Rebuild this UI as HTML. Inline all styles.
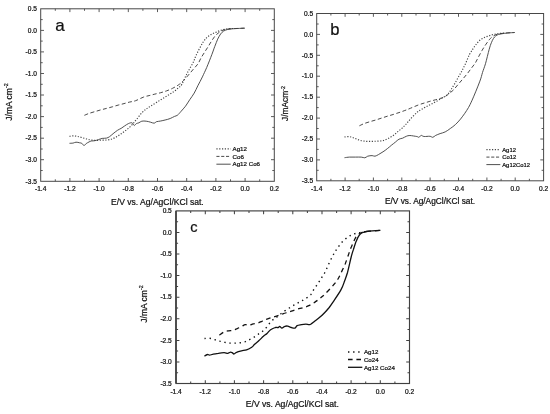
<!DOCTYPE html>
<html lang="en"><head><meta charset="utf-8"><title>Figure</title>
<style>html,body{margin:0;padding:0;background:#fff;}body{width:550px;height:414px;overflow:hidden;}svg{display:block;filter:grayscale(1);}text{font-family:"Liberation Sans", Arial, Helvetica, sans-serif;fill:#111;stroke:#111;stroke-width:0.22px;}</style></head><body>
<svg width="550" height="414" viewBox="0 0 550 414">
<rect x="0" y="0" width="550" height="414" fill="#ffffff"/>
<g id="chart-a">
<rect x="40.7" y="8.8" width="233.6" height="172.5" fill="none" stroke="#484848" stroke-width="1.0"/>
<path d="M55.3,181.3v-2.0 M55.3,8.8v2.0 M69.9,181.3v-3.3 M69.9,8.8v3.3 M84.5,181.3v-2.0 M84.5,8.8v2.0 M99.1,181.3v-3.3 M99.1,8.8v3.3 M113.7,181.3v-2.0 M113.7,8.8v2.0 M128.3,181.3v-3.3 M128.3,8.8v3.3 M142.9,181.3v-2.0 M142.9,8.8v2.0 M157.5,181.3v-3.3 M157.5,8.8v3.3 M172.1,181.3v-2.0 M172.1,8.8v2.0 M186.7,181.3v-3.3 M186.7,8.8v3.3 M201.3,181.3v-2.0 M201.3,8.8v2.0 M215.9,181.3v-3.3 M215.9,8.8v3.3 M230.5,181.3v-2.0 M230.5,8.8v2.0 M245.1,181.3v-3.3 M245.1,8.8v3.3 M259.7,181.3v-2.0 M259.7,8.8v2.0 M40.7,19.6h2.0 M274.3,19.6h-2.0 M40.7,30.4h3.3 M274.3,30.4h-3.3 M40.7,41.1h2.0 M274.3,41.1h-2.0 M40.7,51.9h3.3 M274.3,51.9h-3.3 M40.7,62.7h2.0 M274.3,62.7h-2.0 M40.7,73.5h3.3 M274.3,73.5h-3.3 M40.7,84.3h2.0 M274.3,84.3h-2.0 M40.7,95.0h3.3 M274.3,95.0h-3.3 M40.7,105.8h2.0 M274.3,105.8h-2.0 M40.7,116.6h3.3 M274.3,116.6h-3.3 M40.7,127.4h2.0 M274.3,127.4h-2.0 M40.7,138.2h3.3 M274.3,138.2h-3.3 M40.7,149.0h2.0 M274.3,149.0h-2.0 M40.7,159.7h3.3 M274.3,159.7h-3.3 M40.7,170.5h2.0 M274.3,170.5h-2.0" fill="none" stroke="#484848" stroke-width="0.90"/>
<text x="40.7" y="190.6" font-size="6.6" text-anchor="middle">-1.4</text>
<text x="69.9" y="190.6" font-size="6.6" text-anchor="middle">-1.2</text>
<text x="99.1" y="190.6" font-size="6.6" text-anchor="middle">-1.0</text>
<text x="128.3" y="190.6" font-size="6.6" text-anchor="middle">-0.8</text>
<text x="157.5" y="190.6" font-size="6.6" text-anchor="middle">-0.6</text>
<text x="186.7" y="190.6" font-size="6.6" text-anchor="middle">-0.4</text>
<text x="215.9" y="190.6" font-size="6.6" text-anchor="middle">-0.2</text>
<text x="245.1" y="190.6" font-size="6.6" text-anchor="middle">0.0</text>
<text x="274.3" y="190.6" font-size="6.6" text-anchor="middle">0.2</text>
<text x="36.9" y="11.0" font-size="6.6" text-anchor="end">0.5</text>
<text x="36.9" y="32.5" font-size="6.6" text-anchor="end">0.0</text>
<text x="36.9" y="54.1" font-size="6.6" text-anchor="end">-0.5</text>
<text x="36.9" y="75.7" font-size="6.6" text-anchor="end">-1.0</text>
<text x="36.9" y="97.2" font-size="6.6" text-anchor="end">-1.5</text>
<text x="36.9" y="118.8" font-size="6.6" text-anchor="end">-2.0</text>
<text x="36.9" y="140.4" font-size="6.6" text-anchor="end">-2.5</text>
<text x="36.9" y="161.9" font-size="6.6" text-anchor="end">-3.0</text>
<text x="36.9" y="183.5" font-size="6.6" text-anchor="end">-3.5</text>
<text x="157.4" y="204.5" font-size="8.56" text-anchor="middle">E/V vs. Ag/AgCl/KCl sat.</text>
<text transform="translate(12.1,120.7) rotate(-90)" font-size="8.5">J/mA cm<tspan dy="-3.8" font-size="5.3">-2</tspan></text>
<text x="55.3" y="30.5" font-size="17" fill="#000" stroke="none">a</text>
<path d="M69.5,136.4 C70.1,136.3 71.8,135.8 73.1,135.8 C74.4,135.8 76.0,136.1 77.5,136.4 C78.9,136.7 80.2,137.1 81.8,137.5 C83.4,138.0 85.3,138.6 86.9,139.0 C88.5,139.4 89.7,139.8 91.3,140.0 C92.8,140.2 94.7,140.4 96.4,140.4 C98.1,140.5 99.8,140.2 101.5,140.1 C103.2,140.1 105.0,140.1 106.5,140.0 C108.1,139.9 109.5,139.7 110.9,139.3 C112.4,138.9 113.8,138.3 115.3,137.5 C116.7,136.8 118.2,135.9 119.6,134.9 C121.1,133.9 122.5,132.8 124.0,131.7 C125.5,130.6 126.9,129.6 128.4,128.4 C129.8,127.1 131.4,125.5 132.7,124.0 C134.1,122.5 134.8,121.5 136.4,119.6 C137.9,117.8 140.2,114.5 141.8,112.7 C143.5,111.0 144.7,110.2 146.2,109.1 C147.6,108.0 148.8,107.3 150.5,106.2 C152.2,105.1 154.4,103.8 156.4,102.5 C158.3,101.3 160.2,100.1 162.2,98.9 C164.1,97.7 166.1,96.5 168.0,95.3 C169.9,94.1 172.1,92.8 173.8,91.6 C175.5,90.4 176.8,89.2 178.2,88.0 C179.5,86.8 180.5,86.6 181.8,84.4 C183.2,82.2 185.0,77.4 186.4,74.7 C187.7,72.0 188.8,70.4 190.0,68.2 C191.2,66.0 192.7,63.7 193.6,61.6 C194.6,59.6 194.9,58.0 195.9,55.8 C196.9,53.6 198.3,50.8 199.5,48.5 C200.8,46.2 202.0,43.8 203.2,42.0 C204.4,40.2 205.5,38.9 206.8,37.6 C208.2,36.4 209.6,35.4 211.2,34.4 C212.8,33.5 214.6,32.8 216.3,32.1 C218.0,31.4 219.5,30.6 221.4,30.1 C223.2,29.5 225.2,29.2 227.2,28.9 C229.1,28.6 232.0,28.5 233.0,28.5" fill="none" stroke-dasharray="1.2 1.6" stroke-width="1.15" stroke="#444" stroke-linejoin="round"/>
<path d="M84.4,115.3 C85.2,115.0 87.3,114.0 89.1,113.4 C90.8,112.8 93.0,112.2 94.9,111.6 C96.8,111.1 98.8,110.4 100.7,109.9 C102.7,109.4 104.6,108.9 106.5,108.4 C108.5,107.9 110.4,107.4 112.4,106.8 C114.3,106.3 116.2,105.6 118.2,105.1 C120.1,104.6 122.1,104.1 124.0,103.6 C125.9,103.1 127.9,102.5 129.8,102.0 C131.8,101.6 133.4,101.5 135.6,100.7 C137.9,99.9 141.0,98.0 143.3,97.2 C145.5,96.3 147.2,96.1 149.1,95.6 C151.0,95.1 153.0,94.6 154.9,94.1 C156.8,93.6 158.8,93.2 160.7,92.7 C162.7,92.1 164.6,91.6 166.5,90.9 C168.5,90.2 170.4,89.4 172.4,88.4 C174.3,87.5 176.6,86.1 178.2,85.1 C179.8,84.0 180.7,83.2 181.8,82.2 C182.9,81.2 183.7,80.5 184.9,79.1 C186.2,77.7 187.8,75.7 189.3,74.0 C190.7,72.3 192.2,70.6 193.6,68.9 C195.1,67.2 196.8,65.6 198.0,63.8 C199.2,62.0 199.9,59.9 201.0,58.0 C202.1,56.1 203.4,54.1 204.6,52.2 C205.8,50.2 207.1,48.3 208.3,46.4 C209.5,44.4 210.7,42.4 211.9,40.5 C213.1,38.7 214.2,36.9 215.5,35.5 C216.9,34.0 218.5,32.8 219.9,31.8 C221.4,30.8 222.8,30.1 224.3,29.6 C225.7,29.2 226.7,29.1 228.6,28.9 C230.6,28.7 233.2,28.6 235.9,28.5 C238.6,28.4 243.2,28.2 244.6,28.2" fill="none" stroke-dasharray="4.0 2.5" stroke-width="0.95" stroke="#404040" stroke-linejoin="round"/>
<path d="M69.5,143.3 C70.1,143.3 72.0,143.2 73.1,143.1 C74.2,142.9 74.9,142.2 76.0,142.2 C77.1,142.1 78.7,142.6 79.6,142.8 C80.6,143.0 81.1,142.9 81.8,143.3 C82.5,143.8 83.3,145.5 84.0,145.5 C84.7,145.6 85.3,144.2 86.2,143.6 C87.0,143.0 88.2,142.3 89.1,141.9 C89.9,141.5 90.3,141.2 91.3,141.0 C92.2,140.8 93.7,141.0 94.9,140.7 C96.1,140.5 97.3,140.0 98.5,139.6 C99.8,139.2 100.8,138.6 102.2,138.4 C103.5,138.2 105.3,138.4 106.5,138.1 C107.8,137.8 108.4,137.4 109.5,136.7 C110.5,135.9 111.8,134.8 113.1,133.7 C114.4,132.7 116.1,131.2 117.5,130.3 C118.8,129.4 119.9,129.1 121.1,128.4 C122.3,127.6 123.5,126.7 124.7,125.9 C125.9,125.1 127.2,124.1 128.4,123.6 C129.6,123.1 131.0,122.5 132.0,122.8 C133.0,123.2 133.5,125.3 134.2,125.5 C134.9,125.6 135.6,124.0 136.4,123.6 C137.2,123.1 138.0,123.2 138.9,122.8 C139.8,122.4 140.6,121.4 141.8,121.2 C143.0,120.9 144.7,121.0 146.2,121.2 C147.6,121.3 149.2,121.8 150.5,122.2 C151.9,122.5 153.2,123.3 154.2,123.2 C155.2,123.1 155.3,122.1 156.4,121.7 C157.5,121.4 159.3,121.3 160.7,121.0 C162.2,120.7 163.5,120.4 165.1,120.0 C166.7,119.6 168.6,119.2 170.2,118.5 C171.8,117.9 173.3,116.9 174.5,116.4 C175.8,115.8 176.4,116.0 177.5,115.2 C178.5,114.4 179.8,112.8 181.1,111.3 C182.4,109.8 184.0,108.1 185.5,106.2 C186.9,104.2 188.4,101.8 189.8,99.6 C191.3,97.5 192.8,95.4 194.2,93.1 C195.5,90.8 196.5,88.5 197.8,85.8 C199.2,83.1 200.9,80.0 202.4,76.9 C203.8,73.8 205.1,71.2 206.7,67.5 C208.3,63.7 210.6,57.9 211.9,54.4 C213.3,50.8 213.8,48.9 214.8,46.4 C215.8,43.8 216.8,41.2 217.7,39.1 C218.7,37.0 219.7,35.3 220.6,34.0 C221.6,32.7 222.5,31.8 223.5,31.1 C224.6,30.4 225.8,30.0 227.2,29.6 C228.5,29.3 229.8,29.1 231.5,28.9 C233.2,28.7 235.2,28.6 237.4,28.5 C239.5,28.4 243.4,28.2 244.6,28.2" fill="none" stroke="#3c3c3c" stroke-width="0.9" stroke-linejoin="round"/>
<path d="M216.4,148.8H230.7" fill="none" stroke-dasharray="1.2 1.6" stroke-width="1.15" stroke="#444"/>
<text x="232.5" y="151.0" font-size="6.2">Ag12</text>
<path d="M216.4,156.4H230.7" fill="none" stroke-dasharray="3.1 1.7" stroke-width="0.95" stroke="#404040"/>
<text x="232.5" y="158.6" font-size="6.2">Co6</text>
<path d="M216.4,164.2H230.7" fill="none" stroke="#3c3c3c" stroke-width="0.9"/>
<text x="232.5" y="166.4" font-size="6.2">Ag12 Co6</text>
</g>
<g id="chart-b">
<rect x="316.7" y="13.5" width="226.9" height="167.3" fill="none" stroke="#484848" stroke-width="1.0"/>
<path d="M330.9,180.8v-2.0 M330.9,13.5v2.0 M345.1,180.8v-3.3 M345.1,13.5v3.3 M359.2,180.8v-2.0 M359.2,13.5v2.0 M373.4,180.8v-3.3 M373.4,13.5v3.3 M387.6,180.8v-2.0 M387.6,13.5v2.0 M401.8,180.8v-3.3 M401.8,13.5v3.3 M416.0,180.8v-2.0 M416.0,13.5v2.0 M430.1,180.8v-3.3 M430.1,13.5v3.3 M444.3,180.8v-2.0 M444.3,13.5v2.0 M458.5,180.8v-3.3 M458.5,13.5v3.3 M472.7,180.8v-2.0 M472.7,13.5v2.0 M486.9,180.8v-3.3 M486.9,13.5v3.3 M501.1,180.8v-2.0 M501.1,13.5v2.0 M515.2,180.8v-3.3 M515.2,13.5v3.3 M529.4,180.8v-2.0 M529.4,13.5v2.0 M316.7,24.0h2.0 M543.6,24.0h-2.0 M316.7,34.4h3.3 M543.6,34.4h-3.3 M316.7,44.9h2.0 M543.6,44.9h-2.0 M316.7,55.3h3.3 M543.6,55.3h-3.3 M316.7,65.8h2.0 M543.6,65.8h-2.0 M316.7,76.2h3.3 M543.6,76.2h-3.3 M316.7,86.7h2.0 M543.6,86.7h-2.0 M316.7,97.2h3.3 M543.6,97.2h-3.3 M316.7,107.6h2.0 M543.6,107.6h-2.0 M316.7,118.1h3.3 M543.6,118.1h-3.3 M316.7,128.5h2.0 M543.6,128.5h-2.0 M316.7,139.0h3.3 M543.6,139.0h-3.3 M316.7,149.4h2.0 M543.6,149.4h-2.0 M316.7,159.9h3.3 M543.6,159.9h-3.3 M316.7,170.3h2.0 M543.6,170.3h-2.0" fill="none" stroke="#484848" stroke-width="0.90"/>
<text x="316.7" y="190.7" font-size="6.6" text-anchor="middle">-1.4</text>
<text x="345.1" y="190.7" font-size="6.6" text-anchor="middle">-1.2</text>
<text x="373.4" y="190.7" font-size="6.6" text-anchor="middle">-1.0</text>
<text x="401.8" y="190.7" font-size="6.6" text-anchor="middle">-0.8</text>
<text x="430.1" y="190.7" font-size="6.6" text-anchor="middle">-0.6</text>
<text x="458.5" y="190.7" font-size="6.6" text-anchor="middle">-0.4</text>
<text x="486.9" y="190.7" font-size="6.6" text-anchor="middle">-0.2</text>
<text x="515.2" y="190.7" font-size="6.6" text-anchor="middle">0.0</text>
<text x="543.6" y="190.7" font-size="6.6" text-anchor="middle">0.2</text>
<text x="313.1" y="15.7" font-size="6.6" text-anchor="end">0.5</text>
<text x="313.1" y="36.6" font-size="6.6" text-anchor="end">0.0</text>
<text x="313.1" y="57.5" font-size="6.6" text-anchor="end">-0.5</text>
<text x="313.1" y="78.4" font-size="6.6" text-anchor="end">-1.0</text>
<text x="313.1" y="99.3" font-size="6.6" text-anchor="end">-1.5</text>
<text x="313.1" y="120.2" font-size="6.6" text-anchor="end">-2.0</text>
<text x="313.1" y="141.2" font-size="6.6" text-anchor="end">-2.5</text>
<text x="313.1" y="162.1" font-size="6.6" text-anchor="end">-3.0</text>
<text x="313.1" y="183.0" font-size="6.6" text-anchor="end">-3.5</text>
<text x="430.0" y="204.3" font-size="8.32" text-anchor="middle">E/V vs. Ag/AgCl/KCl sat.</text>
<text transform="translate(288.3,121.0) rotate(-90)" font-size="8.4">J/mAcm<tspan dy="-3.8" font-size="5.2">-2</tspan></text>
<text x="330.3" y="35.3" font-size="16.6" fill="#000" stroke="none">b</text>
<path d="M344.5,137.0 C345.2,136.9 347.4,136.4 348.8,136.6 C350.3,136.7 351.7,137.2 353.2,137.7 C354.6,138.2 356.0,138.9 357.5,139.5 C359.1,140.0 360.9,140.6 362.6,140.9 C364.3,141.2 366.0,141.3 367.7,141.4 C369.4,141.4 371.1,141.4 372.8,141.4 C374.5,141.3 376.2,141.2 377.9,141.1 C379.6,141.0 381.3,141.1 383.0,140.6 C384.7,140.2 386.4,139.3 388.1,138.5 C389.8,137.6 391.6,136.6 393.2,135.5 C394.8,134.5 396.1,133.1 397.5,131.9 C399.0,130.7 400.5,129.6 401.9,128.3 C403.4,126.9 404.8,125.5 406.3,123.9 C407.7,122.3 408.9,120.7 410.6,118.8 C412.4,116.9 415.1,114.1 416.8,112.5 C418.6,111.0 419.6,110.6 421.2,109.6 C422.8,108.7 424.6,107.6 426.3,106.7 C428.0,105.8 429.5,105.1 431.4,104.1 C433.2,103.1 435.4,101.9 437.2,100.9 C439.0,99.9 440.8,98.8 442.3,98.0 C443.7,97.2 444.8,96.6 445.9,95.8 C447.0,95.0 447.9,94.3 448.8,93.2 C449.7,92.1 450.3,90.8 451.3,89.2 C452.3,87.5 453.7,85.4 454.9,83.4 C456.1,81.3 457.3,79.0 458.5,76.8 C459.8,74.6 461.0,72.6 462.2,70.3 C463.4,68.0 464.6,65.7 465.8,63.0 C467.0,60.3 468.3,56.8 469.5,54.4 C470.8,52.0 472.0,50.4 473.2,48.5 C474.4,46.7 475.6,44.9 476.8,43.5 C478.0,42.0 479.1,40.8 480.5,39.8 C481.8,38.8 483.4,38.0 484.8,37.3 C486.3,36.7 487.7,36.2 489.2,35.7 C490.6,35.3 492.0,34.8 493.5,34.4 C495.1,34.1 496.8,33.8 498.6,33.6 C500.5,33.3 503.5,33.1 504.5,33.0" fill="none" stroke-dasharray="1.2 1.6" stroke-width="1.15" stroke="#444" stroke-linejoin="round"/>
<path d="M359.4,125.8 C360.2,125.4 362.3,124.3 364.1,123.6 C365.8,122.9 368.0,122.3 369.9,121.7 C371.8,121.1 373.8,120.6 375.7,120.0 C377.7,119.4 379.6,118.7 381.5,118.1 C383.5,117.5 385.4,116.8 387.4,116.2 C389.3,115.6 391.2,115.1 393.2,114.5 C395.1,113.8 397.1,113.2 399.0,112.6 C400.9,111.9 402.9,111.3 404.8,110.5 C406.8,109.8 408.4,109.1 410.6,108.2 C412.9,107.3 416.0,105.8 418.3,105.0 C420.5,104.1 422.2,103.7 424.1,103.1 C426.0,102.5 428.0,101.9 429.9,101.3 C431.8,100.8 433.8,100.3 435.7,99.7 C437.7,99.2 439.8,98.6 441.5,98.0 C443.2,97.4 444.6,96.9 445.9,96.1 C447.2,95.3 448.3,94.2 449.5,93.2 C450.8,92.2 452.1,91.3 453.5,89.9 C454.8,88.5 456.4,86.5 457.8,84.8 C459.3,83.1 460.7,81.4 462.2,79.7 C463.6,78.0 465.1,76.5 466.5,74.6 C468.0,72.8 469.5,70.8 470.9,68.8 C472.4,66.9 474.0,64.9 475.3,63.0 C476.5,61.1 477.2,59.3 478.3,57.3 C479.4,55.2 480.7,52.8 481.9,50.7 C483.1,48.7 484.3,46.7 485.5,44.9 C486.8,43.1 488.1,41.2 489.2,39.8 C490.3,38.5 491.0,37.8 492.1,36.9 C493.2,36.1 494.4,35.3 495.7,34.7 C497.1,34.2 498.4,34.0 500.1,33.7 C501.8,33.4 503.5,33.2 505.9,33.0 C508.3,32.8 513.2,32.6 514.6,32.5" fill="none" stroke-dasharray="4.0 2.5" stroke-width="0.95" stroke="#404040" stroke-linejoin="round"/>
<path d="M344.5,157.7 C345.3,157.6 347.7,157.2 349.5,157.1 C351.4,157.0 353.4,157.1 355.4,157.1 C357.3,157.1 359.6,157.0 361.2,157.1 C362.8,157.2 363.7,157.9 364.8,157.8 C365.9,157.7 366.5,156.6 367.7,156.2 C368.9,155.8 370.9,155.6 372.1,155.6 C373.3,155.6 373.9,156.4 375.0,156.2 C376.1,156.0 377.3,155.2 378.6,154.5 C380.0,153.7 381.5,152.8 383.0,151.8 C384.5,150.9 385.9,149.8 387.4,148.6 C388.8,147.5 390.4,146.1 391.7,145.0 C393.1,143.9 394.2,143.1 395.4,142.1 C396.6,141.1 397.8,139.8 399.0,139.2 C400.2,138.5 401.4,138.6 402.6,138.2 C403.8,137.7 405.1,136.7 406.3,136.3 C407.5,135.8 408.2,135.5 409.9,135.5 C411.7,135.6 415.3,136.3 416.8,136.5 C418.3,136.8 418.3,137.5 419.0,137.3 C419.7,137.1 420.3,135.5 421.2,135.4 C422.0,135.3 422.6,136.4 424.1,136.5 C425.5,136.7 428.5,136.1 429.9,136.3 C431.4,136.4 431.8,137.4 432.8,137.3 C433.8,137.1 434.5,136.0 435.7,135.4 C436.9,134.8 438.5,134.2 440.1,133.6 C441.7,133.1 443.5,132.7 445.2,131.9 C446.9,131.0 448.6,129.8 450.3,128.5 C452.0,127.3 453.7,126.2 455.4,124.6 C457.1,123.0 458.9,121.0 460.5,119.1 C462.0,117.2 463.5,115.2 464.8,113.3 C466.2,111.3 467.2,109.6 468.5,107.5 C469.7,105.3 470.2,104.4 472.1,100.2 C474.0,95.9 477.9,86.5 479.6,81.9 C481.4,77.3 481.6,75.5 482.5,72.5 C483.5,69.4 484.3,67.6 485.5,63.7 C486.6,59.9 488.2,52.8 489.2,49.3 C490.2,45.8 490.6,44.5 491.4,42.7 C492.1,40.9 492.8,39.5 493.5,38.4 C494.3,37.2 494.9,36.5 495.7,35.9 C496.6,35.2 497.5,34.8 498.6,34.4 C499.7,34.1 500.8,34.0 502.3,33.7 C503.7,33.5 505.3,33.2 507.4,33.0 C509.4,32.8 513.4,32.6 514.6,32.5" fill="none" stroke="#3c3c3c" stroke-width="0.9" stroke-linejoin="round"/>
<path d="M486.4,149.6H500.3" fill="none" stroke-dasharray="1.2 1.6" stroke-width="1.15" stroke="#444"/>
<text x="502.2" y="151.7" font-size="5.9">Ag12</text>
<path d="M486.4,157.1H500.3" fill="none" stroke-dasharray="3.1 1.7" stroke-width="0.95" stroke="#404040"/>
<text x="502.2" y="159.2" font-size="5.9">Co12</text>
<path d="M486.4,164.6H500.3" fill="none" stroke="#3c3c3c" stroke-width="0.9"/>
<text x="502.2" y="166.7" font-size="5.9">Ag12Co12</text>
</g>
<g id="chart-c">
<rect x="176.1" y="210.9" width="233.4" height="172.6" fill="none" stroke="#404040" stroke-width="1.15"/>
<path d="M190.7,383.5v-2.0 M190.7,210.9v2.0 M205.3,383.5v-3.3 M205.3,210.9v3.3 M219.9,383.5v-2.0 M219.9,210.9v2.0 M234.4,383.5v-3.3 M234.4,210.9v3.3 M249.0,383.5v-2.0 M249.0,210.9v2.0 M263.6,383.5v-3.3 M263.6,210.9v3.3 M278.2,383.5v-2.0 M278.2,210.9v2.0 M292.8,383.5v-3.3 M292.8,210.9v3.3 M307.4,383.5v-2.0 M307.4,210.9v2.0 M322.0,383.5v-3.3 M322.0,210.9v3.3 M336.6,383.5v-2.0 M336.6,210.9v2.0 M351.1,383.5v-3.3 M351.1,210.9v3.3 M365.7,383.5v-2.0 M365.7,210.9v2.0 M380.3,383.5v-3.3 M380.3,210.9v3.3 M394.9,383.5v-2.0 M394.9,210.9v2.0 M176.1,221.7h2.0 M409.5,221.7h-2.0 M176.1,232.5h3.3 M409.5,232.5h-3.3 M176.1,243.3h2.0 M409.5,243.3h-2.0 M176.1,254.1h3.3 M409.5,254.1h-3.3 M176.1,264.8h2.0 M409.5,264.8h-2.0 M176.1,275.6h3.3 M409.5,275.6h-3.3 M176.1,286.4h2.0 M409.5,286.4h-2.0 M176.1,297.2h3.3 M409.5,297.2h-3.3 M176.1,308.0h2.0 M409.5,308.0h-2.0 M176.1,318.8h3.3 M409.5,318.8h-3.3 M176.1,329.6h2.0 M409.5,329.6h-2.0 M176.1,340.4h3.3 M409.5,340.4h-3.3 M176.1,351.1h2.0 M409.5,351.1h-2.0 M176.1,361.9h3.3 M409.5,361.9h-3.3 M176.1,372.7h2.0 M409.5,372.7h-2.0" fill="none" stroke="#404040" stroke-width="1.03"/>
<path d="M175.95,210.9V383.5" fill="none" stroke="#404040" stroke-width="1.6"/>
<text x="176.1" y="393.5" font-size="6.6" text-anchor="middle">-1.4</text>
<text x="205.3" y="393.5" font-size="6.6" text-anchor="middle">-1.2</text>
<text x="234.4" y="393.5" font-size="6.6" text-anchor="middle">-1.0</text>
<text x="263.6" y="393.5" font-size="6.6" text-anchor="middle">-0.8</text>
<text x="292.8" y="393.5" font-size="6.6" text-anchor="middle">-0.6</text>
<text x="322.0" y="393.5" font-size="6.6" text-anchor="middle">-0.4</text>
<text x="351.1" y="393.5" font-size="6.6" text-anchor="middle">-0.2</text>
<text x="380.3" y="393.5" font-size="6.6" text-anchor="middle">0.0</text>
<text x="409.5" y="393.5" font-size="6.6" text-anchor="middle">0.2</text>
<text x="171.8" y="213.1" font-size="6.6" text-anchor="end">0.5</text>
<text x="171.8" y="234.7" font-size="6.6" text-anchor="end">0.0</text>
<text x="171.8" y="256.2" font-size="6.6" text-anchor="end">-0.5</text>
<text x="171.8" y="277.8" font-size="6.6" text-anchor="end">-1.0</text>
<text x="171.8" y="299.4" font-size="6.6" text-anchor="end">-1.5</text>
<text x="171.8" y="321.0" font-size="6.6" text-anchor="end">-2.0</text>
<text x="171.8" y="342.5" font-size="6.6" text-anchor="end">-2.5</text>
<text x="171.8" y="364.1" font-size="6.6" text-anchor="end">-3.0</text>
<text x="171.8" y="385.7" font-size="6.6" text-anchor="end">-3.5</text>
<text x="292.3" y="406.7" font-size="8.58" text-anchor="middle">E/V vs. Ag/AgCl/KCl sat.</text>
<text transform="translate(147.1,322.7) rotate(-90)" font-size="8.5">J/mA cm<tspan dy="-3.8" font-size="5.3">-2</tspan></text>
<text x="190.3" y="232.0" font-size="14.6" fill="#000" stroke="none">c</text>
<path d="M204.5,338.5 C205.3,338.4 207.8,338.0 209.5,338.2 C211.2,338.4 212.9,339.1 214.6,339.6 C216.3,340.1 218.0,340.6 219.7,341.1 C221.4,341.5 223.1,342.0 224.8,342.4 C226.5,342.7 228.2,343.0 229.9,343.1 C231.6,343.2 233.3,343.2 235.0,343.1 C236.7,343.1 238.4,343.1 240.1,342.8 C241.8,342.6 243.6,342.2 245.2,341.7 C246.8,341.1 248.1,340.3 249.5,339.6 C251.0,338.9 252.5,338.2 253.9,337.3 C255.4,336.4 256.8,335.1 258.3,334.1 C259.7,333.1 261.2,332.4 262.6,331.2 C264.1,330.0 265.5,328.5 267.0,326.8 C268.5,325.1 269.8,322.5 271.4,321.0 C272.9,319.5 274.6,318.8 276.1,317.6 C277.6,316.5 278.9,315.2 280.5,314.0 C282.0,312.8 283.8,311.5 285.5,310.4 C287.2,309.2 288.9,308.2 290.6,307.2 C292.3,306.1 294.0,305.2 295.7,304.3 C297.4,303.3 299.1,302.3 300.8,301.3 C302.5,300.4 304.2,299.6 305.9,298.4 C307.6,297.3 309.7,295.9 311.0,294.4 C312.3,292.8 312.9,290.9 314.0,289.2 C315.1,287.5 316.4,285.9 317.6,284.1 C318.8,282.3 320.1,280.2 321.3,278.3 C322.5,276.3 323.7,274.8 324.9,272.5 C326.1,270.2 327.3,267.1 328.5,264.5 C329.8,261.8 331.2,258.7 332.4,256.5 C333.5,254.4 334.3,253.0 335.3,251.5 C336.2,249.9 337.1,248.6 338.2,247.1 C339.3,245.6 340.5,243.7 341.8,242.3 C343.2,240.8 344.6,239.6 346.2,238.4 C347.8,237.2 349.6,235.9 351.3,235.0 C353.0,234.2 354.5,233.8 356.4,233.3 C358.2,232.8 360.2,232.4 362.2,232.1 C364.1,231.8 367.0,231.5 368.0,231.4" fill="none" stroke="#111" stroke-dasharray="1.4 3.7" stroke-width="1.4" stroke-linejoin="round"/>
<path d="M219.4,335.1 C220.2,334.6 222.6,332.6 224.1,331.9 C225.6,331.2 227.0,331.1 228.5,330.9 C229.9,330.6 231.4,330.8 232.8,330.5 C234.3,330.1 235.7,329.2 237.2,328.6 C238.6,327.9 240.2,327.2 241.5,326.5 C242.9,325.9 244.0,324.8 245.2,324.6 C246.4,324.4 247.5,325.5 248.8,325.4 C250.2,325.2 251.7,324.3 253.2,323.9 C254.6,323.5 256.1,323.6 257.5,323.2 C259.0,322.7 260.5,321.9 261.9,321.3 C263.4,320.6 264.8,319.8 266.3,319.3 C267.7,318.7 269.4,318.2 270.6,317.8 C271.9,317.4 272.4,317.4 273.9,316.9 C275.4,316.4 277.8,315.7 279.7,315.0 C281.7,314.4 283.6,313.6 285.5,313.0 C287.5,312.3 289.4,311.7 291.4,311.1 C293.3,310.5 295.2,309.8 297.2,309.2 C299.1,308.6 301.1,308.3 303.0,307.7 C304.9,307.2 306.9,306.6 308.8,305.7 C310.8,304.8 312.7,303.6 314.6,302.4 C316.6,301.1 318.6,299.5 320.5,298.0 C322.3,296.5 323.3,295.8 325.5,293.6 C327.7,291.4 331.6,287.3 333.6,284.8 C335.7,282.4 336.7,281.2 338.0,279.0 C339.3,276.8 340.4,274.3 341.6,271.7 C342.8,269.2 344.0,266.9 345.3,263.7 C346.5,260.6 348.1,255.7 349.1,252.9 C350.1,250.1 350.5,248.9 351.3,247.1 C352.0,245.3 352.7,243.6 353.5,242.0 C354.2,240.4 354.9,238.8 355.6,237.6 C356.4,236.5 357.0,235.8 357.8,235.0 C358.7,234.2 359.6,233.5 360.7,233.0 C361.8,232.4 362.9,232.1 364.4,231.8 C365.8,231.5 366.8,231.5 369.5,231.2 C372.1,231.0 378.5,230.5 380.4,230.4" fill="none" stroke="#111" stroke-width="1.3" stroke-dasharray="4.6 3.8" stroke-linejoin="round"/>
<path d="M204.5,356.2 C204.9,355.9 206.5,354.6 207.4,354.5 C208.2,354.3 208.6,355.2 209.5,355.2 C210.5,355.1 211.7,354.5 213.2,354.2 C214.6,353.8 216.5,353.5 218.3,353.3 C220.1,353.0 222.5,352.7 224.1,352.7 C225.7,352.7 226.8,353.5 227.7,353.4 C228.7,353.4 229.2,352.4 229.9,352.3 C230.6,352.1 231.4,352.3 232.1,352.6 C232.8,352.9 233.3,354.1 234.0,354.0 C234.7,354.0 235.2,352.8 236.5,352.3 C237.7,351.7 239.8,351.2 241.5,350.8 C243.2,350.4 244.9,350.4 246.6,349.8 C248.3,349.2 250.4,348.1 251.7,347.2 C253.1,346.3 253.4,345.4 254.6,344.3 C255.8,343.2 257.5,342.0 259.0,340.6 C260.5,339.3 262.0,337.5 263.4,336.3 C264.7,335.1 265.8,334.5 267.0,333.4 C268.2,332.3 269.2,330.7 270.6,329.7 C272.0,328.8 274.1,327.9 275.4,327.5 C276.6,327.2 277.5,327.7 278.3,327.5 C279.0,327.3 279.1,326.3 279.7,326.4 C280.3,326.5 281.1,328.1 281.9,328.1 C282.8,328.1 283.8,326.7 284.8,326.4 C285.8,326.0 286.6,325.9 287.7,326.1 C288.8,326.3 290.2,327.2 291.4,327.5 C292.6,327.9 294.0,328.4 295.0,328.1 C296.0,327.8 296.1,326.2 297.2,325.6 C298.3,325.1 300.1,324.9 301.5,324.6 C303.0,324.4 304.5,324.2 305.9,324.2 C307.4,324.2 308.8,325.0 310.3,324.5 C311.7,324.0 313.1,322.5 314.6,321.3 C316.2,320.1 318.0,318.8 319.7,317.3 C321.4,315.9 323.2,314.2 324.8,312.5 C326.4,310.9 327.8,309.2 329.2,307.5 C330.5,305.8 330.9,305.3 332.8,302.4 C334.8,299.4 339.0,293.4 340.9,289.9 C342.9,286.4 343.5,284.1 344.5,281.2 C345.6,278.3 346.3,276.6 347.5,272.5 C348.6,268.3 350.3,260.4 351.3,256.5 C352.3,252.7 352.7,251.6 353.5,249.3 C354.2,247.0 354.9,244.7 355.6,242.7 C356.4,240.8 357.1,239.0 357.8,237.6 C358.5,236.3 359.2,235.3 360.0,234.4 C360.8,233.6 361.8,233.0 362.9,232.5 C364.0,232.1 365.0,231.8 366.5,231.5 C368.1,231.3 370.1,231.1 372.4,230.9 C374.7,230.8 379.0,230.5 380.4,230.4" fill="none" stroke="#111" stroke-width="1.3" stroke-linejoin="round"/>
<path d="M348.0,352.0H362.3" fill="none" stroke="#111" stroke-dasharray="1.4 3.7" stroke-width="1.4"/>
<text x="363.9" y="354.2" font-size="6.2">Ag12</text>
<path d="M348.0,359.5H362.3" fill="none" stroke="#111" stroke-width="1.3" stroke-dasharray="4.6 3.8"/>
<text x="363.9" y="361.7" font-size="6.2">Co24</text>
<path d="M348.0,367.3H362.3" fill="none" stroke="#111" stroke-width="1.3"/>
<text x="363.9" y="369.5" font-size="6.2">Ag12 Co24</text>
</g>
</svg></body></html>
